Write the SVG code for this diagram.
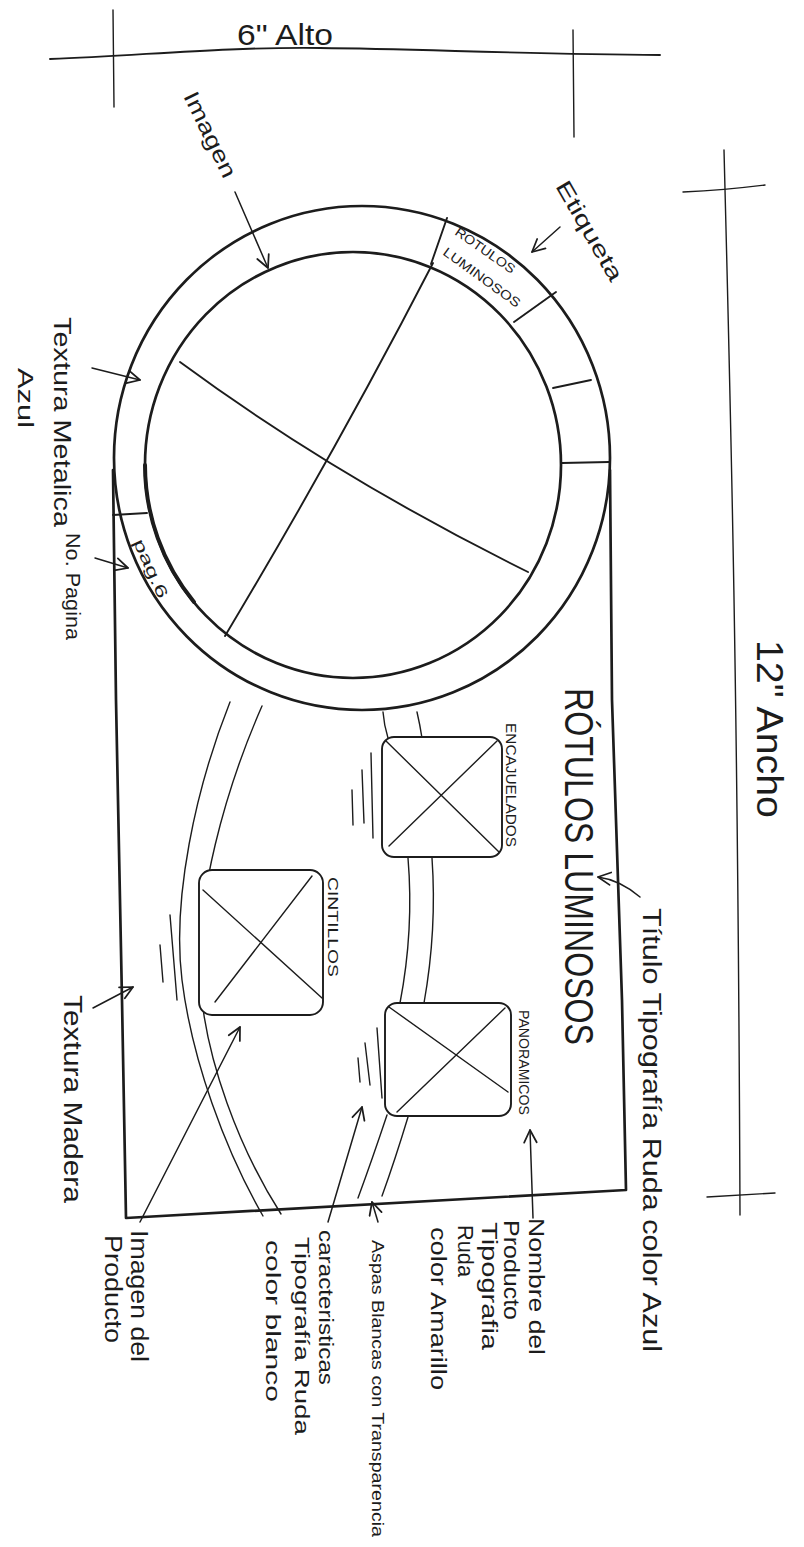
<svg xmlns="http://www.w3.org/2000/svg" width="804" height="1547" viewBox="0 0 804 1547">
<style>
.ln{stroke:#1c1c1c;fill:none;stroke-linecap:round;stroke-linejoin:round}
.k{stroke-width:2.7}
.m{stroke-width:1.9}
.s{stroke-width:1.4}
.box{stroke:#1c1c1c;fill:#fff;stroke-width:1.9}
.t{font-family:"Liberation Sans",Arial,sans-serif;fill:#1c1c1c}
.arr{stroke:#1c1c1c;fill:none;stroke-width:1.5;stroke-linecap:round;marker-end:url(#ah)}
</style>
<defs>
<marker id="ah" viewBox="0 0 12 12" refX="11" refY="6" markerWidth="15" markerHeight="15" markerUnits="userSpaceOnUse" orient="auto">
<path d="M1,1 L11,6 L1,11" fill="none" stroke="#1c1c1c" stroke-width="1.4" stroke-linecap="round" stroke-linejoin="round"/>
</marker>
</defs>
<rect width="804" height="1547" fill="#fff"/>

<g id="dim-alto">
<path class="ln m" d="M50,59 C150,55 220,47 320,48 S520,54 660,55"/>
<path class="ln s" d="M113,10 L114,107"/>
<path class="ln s" d="M573,30 L574,137"/>
<text class="t" x="237" y="45" font-size="30" textLength="96" lengthAdjust="spacingAndGlyphs">6" Alto</text>
</g>

<g id="dim-ancho">
<path class="ln s" d="M724,150 C731,420 738,700 740,1215"/>
<path class="ln s" d="M683,192 Q725,190 765,185"/>
<path class="ln s" d="M707,1197 L775,1193"/>
<text class="t" transform="translate(757,640) rotate(90)" font-size="36" textLength="178" lengthAdjust="spacingAndGlyphs">12" Ancho</text>
</g>

<g id="aspas">
<path class="ln s" d="M230,702 C195,790 172,900 182,980 S225,1150 263,1216"/>
<path class="ln s" d="M262,706 C225,790 195,900 200,980 S240,1150 281,1214"/>
<path class="ln s" d="M383,712 Q384,725 388,738"/>
<path class="ln s" d="M417,712 Q420,725 422,738"/>
<path class="ln s" d="M408,858 Q414,930 400,1003"/>
<path class="ln s" d="M432,858 Q437,930 424,1003"/>
<path class="ln s" d="M387,1115 Q372,1160 358,1198"/>
<path class="ln s" d="M408,1117 Q395,1160 382,1196"/>
</g>

<g id="letrero">
<ellipse class="ln k" cx="362" cy="458" rx="248" ry="252"/>
<path class="ln k" d="M113,470 L116,700 L122,1000 L126,1218 L626,1190 L622,1000 L612,700 L610,470"/>
</g>

<g id="imagen-circulo">
<ellipse class="ln k" cx="353" cy="465" rx="208" ry="213"/>
<path class="ln" stroke-width="4" d="M145,465 A208,213 0 0 0 194,602"/>
<path class="ln m" d="M433,263 Q337,449 225,636"/>
<path class="ln m" d="M180,362 Q336,477 528,572"/>
</g>

<g id="anillo">
<path class="ln m" d="M447,218 L431,264"/>
<path class="ln m" d="M556,292 L514,322"/>
<path class="ln m" d="M591,380 L553,388"/>
<path class="ln m" d="M609,462 L562,463"/>
<path class="ln m" d="M113,515 L147,513"/>
</g>

<g id="etiqueta">
<text class="t" transform="translate(454,234) rotate(35)" font-size="13" textLength="70" lengthAdjust="spacingAndGlyphs">ROTULOS</text>
<text class="t" transform="translate(442,254) rotate(36)" font-size="13" textLength="92" lengthAdjust="spacingAndGlyphs">LUMINOSOS</text>
</g>

<g id="no-pagina">
<text class="t" transform="translate(133,542) rotate(66)" font-size="16" textLength="63" lengthAdjust="spacingAndGlyphs">pag.6</text>
</g>

<g id="encajuelados">
<path class="ln s" d="M352,790 L353,825 M362,770 L364,823 M371,753 L373,838"/>
<rect class="box" x="382" y="737" width="120" height="120" rx="12"/>
<path class="ln s" d="M386,741 L499,852 M497,741 L389,846"/>
<text class="t" transform="translate(506,723) rotate(90)" font-size="15" textLength="124" lengthAdjust="spacingAndGlyphs">ENCAJUELADOS</text>
</g>

<g id="cintillos">
<path class="ln s" d="M160,945 L163,982 M170,915 L177,1000"/>
<rect class="box" x="199" y="870" width="124" height="145" rx="13"/>
<path class="ln s" d="M203,890 L322,998 M312,876 L215,1002"/>
<text class="t" transform="translate(328,877) rotate(90)" font-size="15" textLength="100" lengthAdjust="spacingAndGlyphs">CINTILLOS</text>
</g>

<g id="panoramicos">
<path class="ln s" d="M358,1058 L360,1082 M365,1043 L370,1085 M377,1028 L382,1098"/>
<rect class="box" x="385" y="1003" width="126" height="113" rx="12"/>
<path class="ln s" d="M389,1007 L508,1092 M505,1008 L397,1112"/>
<text class="t" transform="translate(519,1010) rotate(90)" font-size="15" textLength="105" lengthAdjust="spacingAndGlyphs">PANORAMICOS</text>
</g>

<g id="titulo">
<text class="t" transform="translate(565,688) rotate(90)" font-size="40" textLength="357" lengthAdjust="spacingAndGlyphs">RÓTULOS LUMINOSOS</text>
</g>

<g id="connectors">
<path class="arr" d="M235,192 L268,268"/>
<path class="arr" d="M560,227 L532,252"/>
<path class="arr" d="M92,368 L140,380"/>
<path class="arr" d="M95,558 L128,568"/>
<path class="arr" d="M93,1008 L133,987"/>
<path class="arr" d="M640,897 Q620,880 598,877"/>
<path class="arr" d="M140,1222 L240,1027"/>
<path class="arr" d="M328,1222 L362,1107"/>
<path class="arr" d="M378,1222 L372,1202"/>
<path class="arr" d="M533,1218 L530,1130"/>
</g>

<g id="notas">
<text class="t" transform="translate(183,96) rotate(64)" font-size="22" textLength="93" lengthAdjust="spacingAndGlyphs">Imagen</text>
<text class="t" transform="translate(555,186) rotate(60)" font-size="22" textLength="112" lengthAdjust="spacingAndGlyphs">Etiqueta</text>
<text class="t" transform="translate(54,317) rotate(90)" font-size="24" textLength="210" lengthAdjust="spacingAndGlyphs">Textura Metalica</text>
<text class="t" transform="translate(18,368) rotate(90)" font-size="22" textLength="60" lengthAdjust="spacingAndGlyphs">Azul</text>
<text class="t" transform="translate(66,533) rotate(90)" font-size="20" textLength="107" lengthAdjust="spacingAndGlyphs">No. Pagina</text>
<text class="t" transform="translate(64,995) rotate(90)" font-size="25" textLength="208" lengthAdjust="spacingAndGlyphs">Textura Madera</text>
<text class="t" transform="translate(643,908) rotate(90)" font-size="26" textLength="444" lengthAdjust="spacingAndGlyphs">Título Tipografía Ruda color Azul</text>
<text class="t" transform="translate(131,1230) rotate(90)" font-size="23" textLength="132" lengthAdjust="spacingAndGlyphs">Imagen del</text>
<text class="t" transform="translate(105,1235) rotate(90)" font-size="23" textLength="108" lengthAdjust="spacingAndGlyphs">Producto</text>
<text class="t" transform="translate(319,1230) rotate(90)" font-size="21" textLength="155" lengthAdjust="spacingAndGlyphs">caracteristicas</text>
<text class="t" transform="translate(295,1237) rotate(90)" font-size="21" textLength="198" lengthAdjust="spacingAndGlyphs">Tipografía Ruda</text>
<text class="t" transform="translate(266,1240) rotate(90)" font-size="21" textLength="162" lengthAdjust="spacingAndGlyphs">color blanco</text>
<text class="t" transform="translate(372,1240) rotate(90)" font-size="17" textLength="297" lengthAdjust="spacingAndGlyphs">Aspas Blancas con Transparencia</text>
<text class="t" transform="translate(529,1218) rotate(90)" font-size="22" textLength="137" lengthAdjust="spacingAndGlyphs">Nombre del</text>
<text class="t" transform="translate(504,1220) rotate(90)" font-size="22" textLength="100" lengthAdjust="spacingAndGlyphs">Producto</text>
<text class="t" transform="translate(482,1222) rotate(90)" font-size="22" textLength="128" lengthAdjust="spacingAndGlyphs">Tipografia</text>
<text class="t" transform="translate(458,1225) rotate(90)" font-size="22" textLength="52" lengthAdjust="spacingAndGlyphs">Ruda</text>
<text class="t" transform="translate(431,1227) rotate(90)" font-size="22" textLength="163" lengthAdjust="spacingAndGlyphs">color Amarillo</text>
</g>
</svg>
